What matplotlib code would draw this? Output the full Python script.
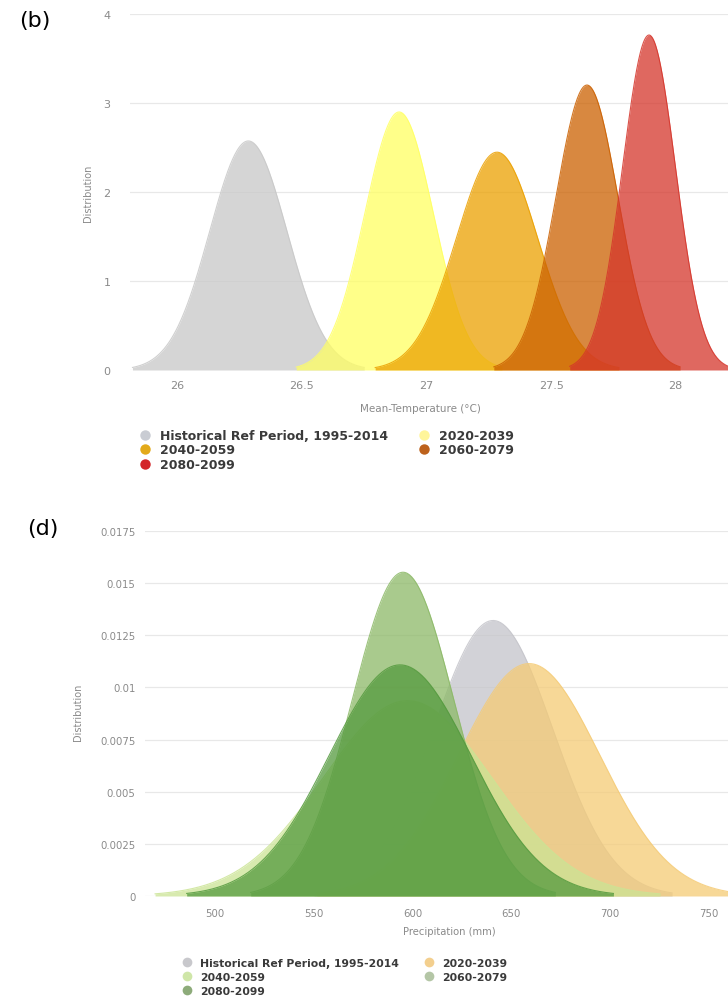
import numpy as np
import matplotlib
matplotlib.use("Agg")
import matplotlib.pyplot as plt
from matplotlib.lines import Line2D

W, H = 728, 1004

# ---- Panel (b): mean temperature distributions ----
temp_labels = ["Historical Ref Period, 1995-2014", "2020-2039", "2040-2059",
               "2060-2079", "2080-2099"]
temp_means = [26.285, 26.89, 27.283, 27.644, 27.893]
temp_sds = [0.155, 0.1376, 0.163, 0.1246, 0.106]
temp_colors = ["#c8c8c8", "#ffff62", "#eba000", "#cb6000", "#d5352b"]
temp_legend_colors = ["#c9ccd3", "#fff59a", "#e3aa1a", "#bd621c", "#d3262a"]
temp_xticks = [26, 26.5, 27, 27.5, 28]
temp_xticklabels = ["26", "26.5", "27", "27.5", "28"]
temp_yticks = [0, 1, 2, 3, 4]

# ---- Panel (d): precipitation distributions ----
prec_labels = ["Historical Ref Period, 1995-2014", "2020-2039", "2040-2059",
               "2060-2079", "2080-2099"]
prec_means = [640.8, 659.0, 597.5, 595.2, 593.7]
prec_sds = [30.2, 35.8, 42.6, 25.7, 36.0]
prec_colors = ["#c4c4ca", "#f5cb75", "#cbe495", "#8cb967", "#549a3e"]
prec_legend_colors = ["#c8c8cc", "#f3cf8e", "#cfe6a8", "#b4c6a6", "#8dab7a"]
prec_xticks = [500, 550, 600, 650, 700, 750]
prec_yticks = [0, 0.0025, 0.005, 0.0075, 0.01, 0.0125, 0.015, 0.0175]
prec_yticklabels = ["0", "0.0025", "0.005", "0.0075", "0.01", "0.0125", "0.015", "0.0175"]

SIGMA_SPAN = 3.0
FILL_ALPHA = 0.75


def normal_pdf(x, mu, sd):
    return np.exp(-0.5 * ((x - mu) / sd) ** 2) / (sd * np.sqrt(2 * np.pi))


def px_rect(left, top, right, bottom):
    return [left / W, 1 - bottom / H, (right - left) / W, (bottom - top) / H]


def draw_densities(ax, means, sds, colors):
    # each series is drawn as a unit (fill + outline) so later series cover earlier ones
    for k, (mu, sd, col) in enumerate(zip(means, sds, colors)):
        x = np.linspace(mu - SIGMA_SPAN * sd, mu + SIGMA_SPAN * sd, 300)
        y = normal_pdf(x, mu, sd)
        z = 2 + 2 * k
        ax.fill_between(x, 0, y, color=col, alpha=FILL_ALPHA, lw=0, zorder=z)
        ax.plot(x, y, color=col, lw=0.8, alpha=0.85, zorder=z + 1)


def style_axes(ax, ypad, xpad, fs):
    for s in ax.spines.values():
        s.set_visible(False)
    ax.grid(axis="y", color="#e8e8e8", lw=0.9, zorder=0)
    ax.grid(axis="x", visible=False)
    ax.set_axisbelow(True)
    ax.tick_params(axis="y", length=0, pad=ypad, labelsize=fs, labelcolor="#8a8a8a")
    ax.tick_params(axis="x", length=0, pad=xpad, labelsize=fs, labelcolor="#8a8a8a")


def add_legend(fig, labels, colors, fs, x0, top, colspace, msize, lspace):
    order = [0, 2, 4, 1, 3]
    handles = [Line2D([], [], ls="none", marker="o", markersize=msize,
                      markerfacecolor=colors[i], markeredgecolor="none")
               for i in order]
    leg = fig.legend(handles, [labels[i] for i in order], ncol=2,
                     loc="upper left", bbox_to_anchor=(x0 / W, 1 - top / H),
                     frameon=False, borderpad=0, borderaxespad=0,
                     handlelength=0.8, handletextpad=0.8,
                     columnspacing=colspace, labelspacing=lspace,
                     prop={"family": "DejaVu Sans", "weight": "bold", "size": fs})
    for t in leg.get_texts():
        t.set_color("#3a3a3a")
    return leg


fig = plt.figure(figsize=(W / 100, H / 100), dpi=100)

# Panel (b)
ax1 = fig.add_axes(px_rect(130, 15, 728, 371))
draw_densities(ax1, temp_means, temp_sds, temp_colors)
ax1.set_xlim(25.81, 28.21)
ax1.set_ylim(0, 4)
ax1.set_xticks(temp_xticks)
ax1.set_xticklabels(temp_xticklabels)
ax1.set_yticks(temp_yticks)
style_axes(ax1, ypad=14, xpad=7, fs=8)
fig.text(88 / W, 1 - 193 / H, "Distribution", rotation=90, ha="center",
         va="center", fontsize=7, color="#8a8a8a")
fig.text(420 / W, 1 - 409 / H, "Mean-Temperature (°C)", ha="center",
         va="center", fontsize=7.5, color="#8a8a8a")
add_legend(fig, temp_labels, temp_legend_colors, fs=9, x0=140, top=430,
           colspace=2.5, msize=7.5, lspace=0.12)
fig.text(35 / W, 1 - 21 / H, "(b)", ha="center", va="center", fontsize=16,
         color="black")

# Panel (d)
ax2 = fig.add_axes(px_rect(145, 532, 728, 897))
draw_densities(ax2, prec_means, prec_sds, prec_colors)
ax2.set_xlim(464.6, 759.7)
ax2.set_ylim(0, 0.0175)
ax2.set_xticks(prec_xticks)
ax2.set_yticks(prec_yticks)
ax2.set_yticklabels(prec_yticklabels)
style_axes(ax2, ypad=7, xpad=9, fs=7.3)
fig.text(78 / W, 1 - 712 / H, "Distribution", rotation=90, ha="center",
         va="center", fontsize=7, color="#8a8a8a")
fig.text(449 / W, 1 - 932 / H, "Precipitation (mm)", ha="center",
         va="center", fontsize=7.2, color="#8a8a8a")
add_legend(fig, prec_labels, prec_legend_colors, fs=7.8, x0=183, top=959,
           colspace=2.37, msize=7, lspace=0.38)
fig.text(43 / W, 1 - 529 / H, "(d)", ha="center", va="center", fontsize=16,
         color="black")

fig.savefig("out.png", dpi=100, facecolor="white")
